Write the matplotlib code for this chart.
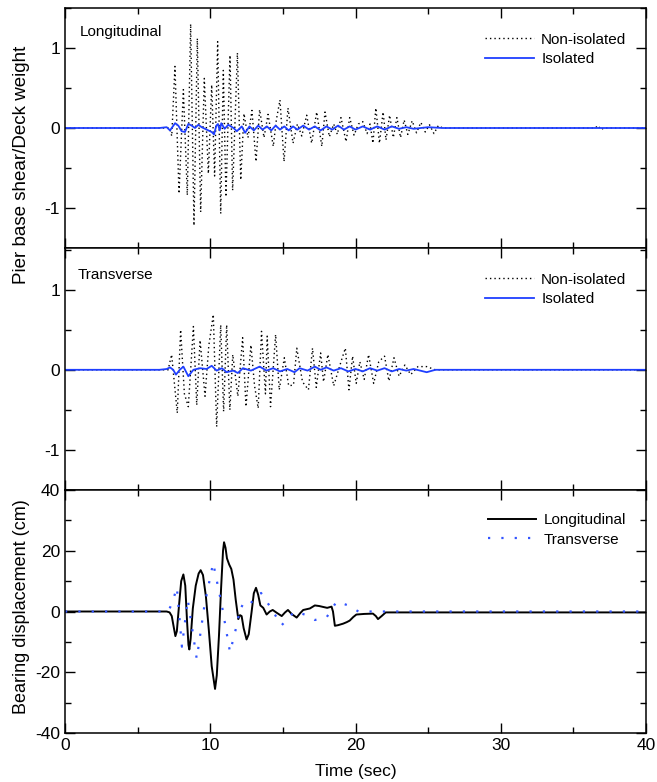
import matplotlib
matplotlib.use('Agg')
import matplotlib.pyplot as plt
from matplotlib.ticker import MultipleLocator

plt.rcParams['font.family'] = ['Liberation Sans', 'DejaVu Sans']
plt.rcParams['axes.unicode_minus'] = False

# Longitudinal pier shear, non-isolated (peak values)
lon_non_t = [0, 7.2, 7.35, 7.57, 7.85, 8.15, 8.42, 8.65, 8.88, 9.11, 9.34, 9.59, 9.87,
             10.1, 10.3, 10.51, 10.72, 10.9, 11.08, 11.36, 11.54, 11.87, 12.1, 12.32,
             12.6, 12.87, 13.15, 13.4, 13.7, 13.98, 14.34, 14.55, 14.8, 15.08, 15.35,
             15.7, 16.0, 16.3, 16.64, 16.98, 17.33, 17.68, 17.9, 18.2, 18.5, 18.75,
             19.0, 19.35, 19.6, 19.9, 20.2, 20.5, 20.8, 21.0, 21.2, 21.4, 21.65, 21.9,
             22.1, 22.35, 22.6, 22.85, 23.1, 23.35, 23.6, 23.9, 24.2, 24.5, 24.8,
             25.1, 25.4, 25.7, 26.0, 36.5, 36.7, 36.9, 37.1, 40]
lon_non_v = [0, 0, -0.1, 0.77, -0.82, 0.48, -0.84, 1.3, -1.22, 1.12, -1.05, 0.62, -0.57,
             0.54, -0.6, 1.08, -1.07, 0.72, -0.86, 0.91, -0.78, 0.94, -0.65, 0.18,
             -0.12, 0.22, -0.42, 0.23, -0.12, 0.17, -0.23, 0.1, 0.35, -0.42, 0.25,
             -0.19, 0.05, -0.1, 0.16, -0.19, 0.2, -0.23, 0.2, -0.11, 0.05, -0.08,
             0.13, -0.17, 0.13, -0.09, 0.05, 0.08, -0.07, 0.05, -0.19, 0.25, -0.19, 0.2,
             -0.15, 0.16, -0.12, 0.13, -0.12, 0.1, -0.08, 0.09, -0.06, 0.07, -0.05,
             0.04, -0.07, 0.03, 0, 0, 0.03, -0.02, 0, 0]

# Longitudinal pier shear, isolated
lon_iso_t = [0, 6.5, 7.0, 7.23, 7.58, 7.8, 8.03, 8.26, 8.49, 8.72, 8.95, 9.18, 9.41,
             9.75, 10.1, 10.26, 10.42, 10.53, 10.65, 10.76, 10.99, 11.24, 11.6, 11.83,
             12.17, 12.4, 12.7, 13.0, 13.3, 13.6, 13.9, 14.2, 14.5, 14.8, 15.1, 15.4,
             15.7, 16.0, 16.4, 16.8, 17.2, 17.6, 18.0, 18.4, 18.8, 19.2, 19.6, 20.0,
             20.5, 21.0, 21.5, 22.0, 22.5, 23.0, 23.5, 24.0, 25.0, 26.0, 40]
lon_iso_v = [0, 0, 0.01, -0.03, 0.06, 0.03, -0.04, -0.05, 0.05, 0.03, 0.0, 0.04, 0.01,
             -0.02, -0.05, -0.08, 0.03, 0.05, -0.03, 0.06, -0.01, 0.04, 0.0, -0.04,
             0.02, -0.06, 0.02, -0.03, 0.03, -0.02, 0.02, -0.03, 0.03, -0.02, 0.02,
             -0.03, 0.02, -0.02, 0.03, -0.02, 0.02, -0.03, 0.02, -0.02, 0.03, -0.02,
             0.02, -0.02, 0.02, -0.02, 0.02, -0.02, 0.02, -0.01, 0.01, -0.01, 0.01, 0, 0]

# Transverse pier shear, non-isolated (peak values)
tra_non_t = [0, 7.1, 7.34, 7.73, 7.96, 8.22, 8.49, 8.84, 9.07, 9.3, 9.64, 9.9, 10.21,
             10.44, 10.72, 10.92, 11.13, 11.35, 11.55, 11.9, 12.23, 12.46, 12.8, 13.05,
             13.3, 13.53, 13.8, 13.92, 14.15, 14.5, 14.75, 15.1, 15.4, 15.73, 15.96,
             16.35, 16.76, 17.04, 17.3, 17.6, 17.8, 18.1, 18.5, 19.0, 19.3, 19.55,
             19.8, 20.05, 20.3, 20.6, 20.9, 21.25, 21.6, 22.0, 22.3, 22.65, 23.0,
             23.4, 23.8, 24.3, 24.9, 25.5, 40]
tra_non_v = [0, 0, 0.19, -0.54, 0.5, -0.3, -0.46, 0.54, -0.44, 0.37, -0.33, 0.3, 0.69,
             -0.71, 0.56, -0.52, 0.56, -0.5, 0.19, -0.33, 0.4, -0.46, 0.31, -0.2,
             -0.48, 0.48, -0.3, 0.42, -0.46, 0.44, -0.25, 0.15, -0.2, -0.19, 0.27,
             -0.15, -0.25, 0.27, -0.22, 0.21, -0.15, 0.19, -0.2, 0.1, 0.27, -0.25,
             0.17, -0.17, 0.1, -0.12, 0.19, -0.17, 0.1, 0.17, -0.14, 0.15, -0.08,
             0.06, -0.06, 0.04, 0.04, 0, 0]

# Transverse pier shear, isolated
tra_iso_t = [0, 6.5, 7.0, 7.23, 7.45, 7.64, 7.9, 8.15, 8.49, 8.84, 9.3, 9.75, 10.1,
             10.44, 10.8, 11.13, 11.58, 11.9, 12.25, 12.8, 13.4, 13.87, 14.33, 14.8,
             15.3, 15.8, 16.15, 16.7, 17.2, 17.6, 18.0, 18.5, 19.0, 19.5, 20.0, 20.5,
             21.0, 21.5, 22.0, 22.5, 23.0, 23.5, 24.0, 24.9, 25.5, 27, 40]
tra_iso_v = [0, 0, 0.01, 0.03, 0.0, -0.06, 0.0, 0.04, -0.08, 0.0, 0.02, 0.01, 0.05,
             -0.01, 0.02, -0.03, -0.01, -0.04, 0.02, -0.01, 0.04, -0.01, 0.02, -0.02,
             0.01, -0.03, 0.02, -0.01, 0.04, 0.0, 0.03, -0.01, 0.02, -0.02, 0.01,
             -0.02, 0.02, -0.01, 0.02, -0.02, 0.01, -0.01, 0.01, -0.03, 0.0, 0, 0]

# Bearing displacement, longitudinal (cm)
brg_lon_t = [0, 7.0, 7.2, 7.35, 7.5, 7.6, 7.7, 7.85, 8.0, 8.15, 8.28, 8.4, 8.5, 8.56,
             8.65, 8.8, 9.0, 9.2, 9.34, 9.5, 9.7, 9.9, 10.1, 10.33, 10.45, 10.6, 10.75,
             10.88, 10.95, 11.05, 11.15, 11.3, 11.45, 11.6, 11.75, 11.93, 12.05, 12.16,
             12.3, 12.5, 12.65, 12.85, 13.0, 13.15, 13.3, 13.45, 13.65, 13.88, 14.1,
             14.3, 14.6, 14.92, 15.15, 15.35, 15.6, 15.95, 16.2, 16.4, 16.86, 17.2,
             17.5, 17.77, 18.05, 18.35, 18.45, 18.58, 18.8, 19.15, 19.4, 19.6, 19.85,
             20.06, 20.6, 21.2, 21.4, 21.55, 21.8, 22.08, 40]
brg_lon_v = [0, 0, -0.3, -1.5, -5.5, -8.1, -6.5, 2, 10, 12.2, 8.5, -3, -11, -12.5,
             -9, 1, 8.5, 12.5, 13.6, 12, 5, -6, -18, -25.5, -21, -8, 8,
             20, 22.8, 21, 17.5, 15.5, 14, 10.5, 4, -2.5, -1.2, -1.5,
             -5.5, -9.2, -7.5, 0, 6, 7.8, 5.5, 2, 1.2, -1, 0,
             0.5, -0.5, -1.5, -0.3, 0.5, -0.8, -2, -0.5, 0.5, 1, 2,
             1.8, 1.5, 1.2, 1.6, 0, -4.7, -4.5, -4, -3.5, -3, -1.8,
             -1, -0.8, -0.7, -1.5, -2.5, -1.5, -0.3, -0.3]

# Bearing displacement, transverse (cm)
brg_tra_t = [0, 7.1, 7.4, 7.7, 8.05, 8.45, 9.07, 9.6, 10.2, 10.8, 11.36, 11.8, 12.1,
             12.5, 13.0, 13.5, 14.2, 14.9, 15.8, 16.5, 17.2, 18.0, 18.7, 19.5, 20.2, 40]
brg_tra_v = [0, 0, 3, 8, -11.6, 4, -15.6, 2, 16, 2, -13.4, -5, 2,
             1, 4, 6.1, 1, -4.6, 0, -1, -2.8, -2, 3.3, 2, 0, 0]

fig = plt.figure(figsize=(6.57, 7.82), dpi=100)
W, H = 657.0, 782.0
left, right = 65 / W, 646 / W
edges = [8, 248, 490, 733]
axes = []
for i in range(3):
    top = 1 - edges[i] / H
    bot = 1 - edges[i + 1] / H
    axes.append(fig.add_axes([left, bot, right - left, top - bot]))

for ax in axes:
    ax.set_xlim(0, 40)
    ax.xaxis.set_major_locator(MultipleLocator(10))
    ax.xaxis.set_minor_locator(MultipleLocator(5))
    ax.tick_params(which='both', direction='in', top=True, right=True, labelsize=12.5)
    ax.tick_params(which='major', length=7, width=1)
    ax.tick_params(which='minor', length=4, width=1)
    for s in ax.spines.values():
        s.set_linewidth(1.1)

dot_style = (0, (1, 2.2))

ax1, ax2, ax3 = axes
ax1.plot(lon_non_t, lon_non_v, color='black', lw=1.0, ls=dot_style, label='Non-isolated')
ax1.plot(lon_iso_t, lon_iso_v, color='#1f3fff', lw=1.3, label='Isolated')
ax1.set_ylim(-1.5, 1.5)
ax1.text(0.026, 0.9, 'Longitudinal', transform=ax1.transAxes, fontsize=11, va='center')

ax2.plot(tra_non_t, tra_non_v, color='black', lw=1.0, ls=dot_style, label='Non-isolated')
ax2.plot(tra_iso_t, tra_iso_v, color='#1f3fff', lw=1.3, label='Isolated')
ax2.set_ylim(-1.5, 1.52)
ax2.text(0.022, 0.888, 'Transverse', transform=ax2.transAxes, fontsize=11, va='center')

for ax in (ax1, ax2):
    ax.yaxis.set_major_locator(MultipleLocator(1))
    ax.yaxis.set_minor_locator(MultipleLocator(0.5))
    ax.set_xticklabels([])
    ax.legend(loc='upper right', bbox_to_anchor=(0.99, 0.955), frameon=False,
              fontsize=11, handlelength=3.2, handletextpad=0.5, labelspacing=0.35)

ax3.plot(brg_lon_t, brg_lon_v, color='black', lw=1.4, label='Longitudinal')
ax3.plot(brg_tra_t, brg_tra_v, color='#3355ff', lw=1.6, ls=(0, (1, 5)), label='Transverse')
ax3.set_ylim(-40, 40)
ax3.yaxis.set_major_locator(MultipleLocator(20))
ax3.yaxis.set_minor_locator(MultipleLocator(10))
ax3.legend(loc='upper right', bbox_to_anchor=(0.99, 0.96), frameon=False,
           fontsize=11, handlelength=3.2, handletextpad=0.5, labelspacing=0.35)
ax3.set_xlabel('Time (sec)', fontsize=12.5, labelpad=8)

fig.text(22 / W, 1 - 165 / H, 'Pier base shear/Deck weight', rotation=90,
         ha='center', va='center', fontsize=13.5)
fig.text(22 / W, 1 - 607 / H, 'Bearing displacement (cm)', rotation=90,
         ha='center', va='center', fontsize=13)

fig.savefig('out.png', dpi=100)
